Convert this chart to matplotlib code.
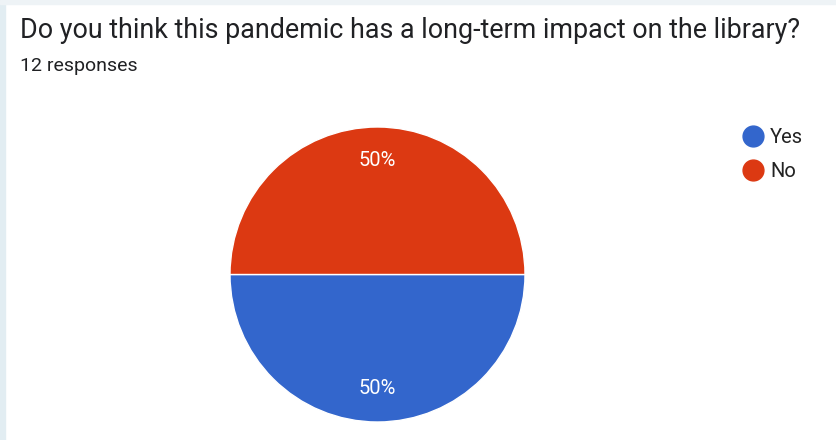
import matplotlib.pyplot as plt
from matplotlib.lines import Line2D
from matplotlib.patches import Rectangle

# survey data
labels = ['Yes', 'No']
values = [6, 6]
colors = ['#3366cc', '#dc3912']
title = 'Do you think this pandemic has a long-term impact on the library?'
subtitle = '12 responses'

plt.rcParams['font.family'] = ['Roboto', 'DejaVu Sans']

W, H = 836, 440
fig = plt.figure(figsize=(W/100, H/100), dpi=100)
fig.patch.set_facecolor('white')

# light page border on the left and top
fig.patches.append(Rectangle((0, 0), 5/W, 1, transform=fig.transFigure,
                             color='#e2edf2', zorder=0))
fig.patches.append(Rectangle((0, 1-4/H), 1, 4/H, transform=fig.transFigure,
                             color='#eef3f6', zorder=0))

fig.text(20/W, 1-30/H, title, fontsize=19.4, color='#202124', va='center')
fig.text(20/W, 1-66/H, subtitle, fontsize=14, color='#202124', va='center')

# pie box
ax = fig.add_axes([230/W, 18/H, 295/W, 295/H])
wedges, texts, autotexts = ax.pie(values, colors=colors, startangle=180,
                                  counterclock=True, autopct='%d%%',
                                  pctdistance=0.77,
                                  wedgeprops=dict(edgecolor='white', linewidth=1),
                                  textprops=dict(color='white', fontsize=14.5))
ax.set_xlim(-1, 1)
ax.set_ylim(-1, 1)
ax.set_aspect('equal')

handles = [Line2D([], [], marker='o', linestyle='', markersize=15,
                  markerfacecolor=c, markeredgecolor=c) for c in colors]
fig.legend(handles, labels, loc='upper left', bbox_to_anchor=(743/W, 1-128/H),
           frameon=False, fontsize=14.5, handletextpad=0.35, labelspacing=0.75,
           handlelength=1.0, borderaxespad=0, borderpad=0, labelcolor='#222222')

fig.savefig('out.png', dpi=100)
